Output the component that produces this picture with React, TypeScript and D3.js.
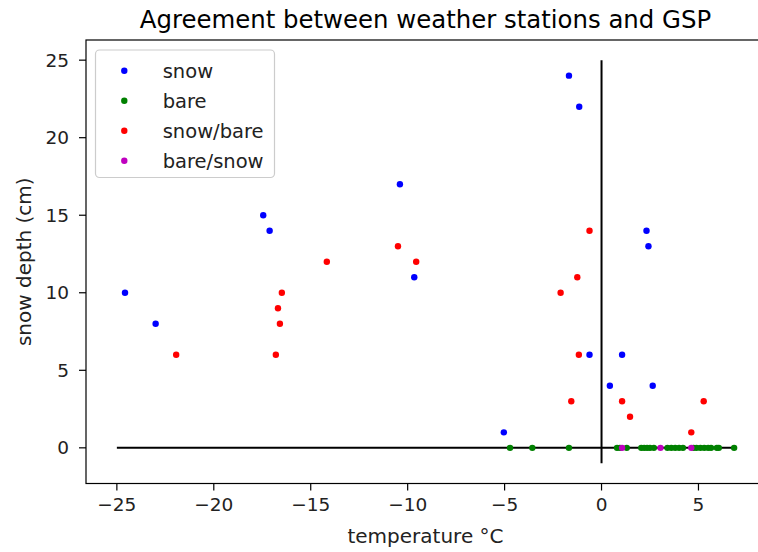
import React from "react";
import * as d3 from "d3";

const W = 758;
const H = 552;

const title = "Agreement between weather stations and GSP";
const xLabel = "temperature °C";
const yLabel = "snow depth (cm)";

const xTicks = [-25, -20, -15, -10, -5, 0, 5];
const yTicks = [0, 5, 10, 15, 20, 25];

const snowT = [-24.58, -23.0, -17.45, -17.12, -10.4, -9.66, -1.68, -1.15, 2.32, 2.42, -0.62, 1.06, 0.43, 2.64, -5.04];
const snowD = [10, 8, 15, 14, 17, 11, 24, 22, 14, 13, 6, 6, 4, 4, 1];

const bareT = [-4.72, -3.57, -1.68, 0.8, 0.95, 1.3, 2.05, 2.2, 2.35, 2.5, 2.7, 3.4, 3.6, 3.8, 4.0, 4.2, 4.75, 4.9, 5.1, 5.3, 5.5, 5.65, 5.95, 6.05, 6.84];
const bareD = bareT.map(() => 0);

const snowBareT = [-21.94, -16.8, -16.59, -16.69, -16.49, -14.17, -10.5, -9.56, -0.62, -1.25, -2.11, -1.17, -1.56, 1.06, 1.47, 4.63, 5.27];
const snowBareD = [6, 6, 8, 9, 10, 12, 13, 12, 14, 11, 10, 6, 3, 3, 2, 1, 3];

const bareSnowT = [1.06, 3.04, 4.63];
const bareSnowD = [0, 0, 0];

const hLineX = [-25, 6.84];
const vLineY = [-1, 25];

const seriesNames = ["snow", "bare", "snow/bare", "bare/snow"];
const seriesColors = ["#0000ff", "#008000", "#ff0000", "#bf00bf"];

const FONT = "DejaVu Sans, sans-serif";

export default function App() {
  const left = 86, right = 765, top = 40, bottom = 483.5;
  const xmin = -25, xmax = 6.84;
  const xpad = (xmax - xmin) * 0.05;
  const ymin = -1, ymax = 25;
  const ypad = (ymax - ymin) * 0.05;
  const x = d3.scaleLinear().domain([xmin - xpad, xmax + xpad]).range([left, right]);
  const y = d3.scaleLinear().domain([ymin - ypad, ymax + ypad]).range([bottom, top]);

  const series = [
    { t: snowT, d: snowD },
    { t: bareT, d: bareD },
    { t: snowBareT, d: snowBareD },
    { t: bareSnowT, d: bareSnowD },
  ];

  const r = 3.2;
  const tick = 7;

  return (
    <svg width={W} height={H} style={{ position: "absolute", left: 0, top: 0, background: "#fff" }} fontFamily={FONT}>
      <rect x={0} y={0} width={W} height={H} fill="#fff" />
      <text x={(left + right) / 2} y={28} textAnchor="middle" fontSize={24.4} fill="#000">{title}</text>

      {/* reference lines */}
      <line x1={x(hLineX[0])} x2={x(hLineX[1])} y1={y(0)} y2={y(0)} stroke="#000" strokeWidth={2} />
      <line x1={x(0)} x2={x(0)} y1={y(vLineY[0])} y2={y(vLineY[1])} stroke="#000" strokeWidth={2} />

      {series.map((s, si) =>
        s.t.map((tv, i) => (
          <circle key={si + "-" + i} cx={x(tv)} cy={y(s.d[i])} r={r} fill={seriesColors[si]} />
        ))
      )}

      {/* axes frame */}
      <rect x={left} y={top} width={right - left} height={bottom - top} fill="none" stroke="#000" strokeWidth={1.2} />

      {xTicks.map((t) => (
        <g key={"xt" + t}>
          <line x1={x(t)} x2={x(t)} y1={bottom} y2={bottom + tick} stroke="#000" strokeWidth={1.2} />
          <text x={x(t)} y={bottom + 27} textAnchor="middle" fontSize={18.5} fill="#222">
            {t < 0 ? "\u2212" + Math.abs(t) : String(t)}
          </text>
        </g>
      ))}
      {yTicks.map((t) => (
        <g key={"yt" + t}>
          <line x1={left - tick} x2={left} y1={y(t)} y2={y(t)} stroke="#000" strokeWidth={1.2} />
          <text x={left - 17} y={y(t) + 6.5} textAnchor="end" fontSize={18.5} fill="#222">{t}</text>
        </g>
      ))}

      <text x={(left + right) / 2} y={543} textAnchor="middle" fontSize={20} fill="#222">{xLabel}</text>
      <text transform={`translate(31, ${(top + bottom) / 2}) rotate(-90)`} textAnchor="middle" fontSize={20} fill="#222">{yLabel}</text>

      {/* legend */}
      <rect x={95.5} y={50} width={179} height={127.5} rx={4} fill="#fff" fillOpacity={0.8} stroke="#cccccc" strokeWidth={1.2} />
      {seriesNames.map((n, i) => (
        <g key={n}>
          <circle cx={124.3} cy={70.7 + i * 30} r={r} fill={seriesColors[i]} />
          <text x={162.7} y={70.7 + i * 30 + 6.8} fontSize={19.5} fill="#222">{n}</text>
        </g>
      ))}
    </svg>
  );
}
